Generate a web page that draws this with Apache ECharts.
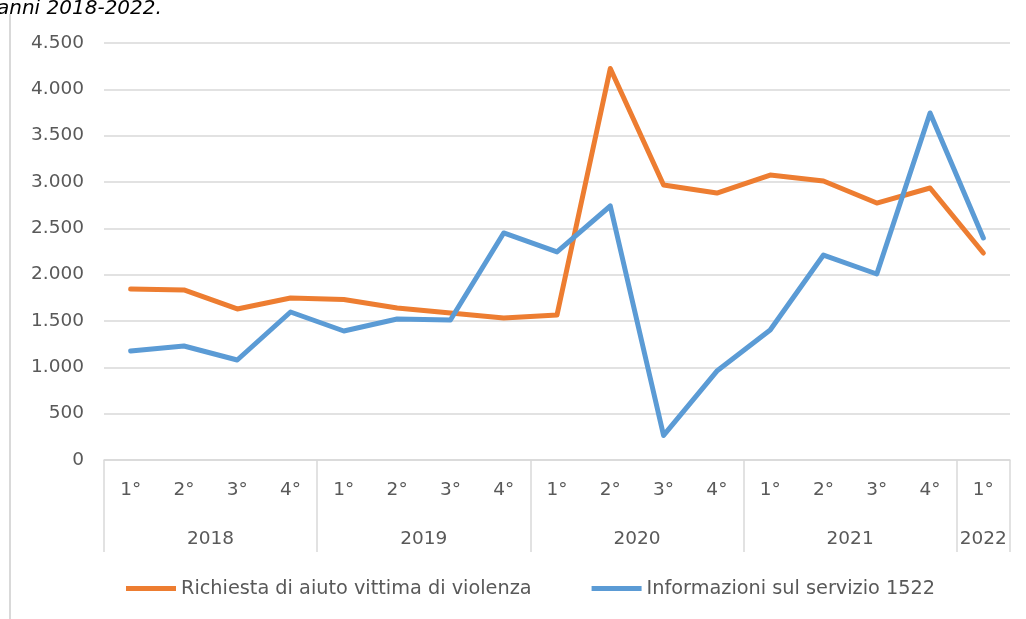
<!DOCTYPE html>
<html>
<head>
<meta charset="utf-8">
<script src="https://cdn.jsdelivr.net/npm/echarts@6/dist/echarts.min.js"></script>
<style>
  html, body { margin: 0; padding: 0; background: #fff; }
  #chart { width: 1026px; height: 619px; }
</style>
</head>
<body>
<div id="chart"></div>
<script>
// trimestri per anno
const quarters = ["1°", "2°", "3°", "4°", "1°", "2°", "3°", "4°", "1°", "2°", "3°", "4°", "1°", "2°", "3°", "4°", "1°"];
const years = ["2018", "2019", "2020", "2021", "2022"];
const quartersPerYear = [4, 4, 4, 4, 1];
const yTicks = [0, 500, 1000, 1500, 2000, 2500, 3000, 3500, 4000, 4500];

const seriesNames = ["Richiesta di aiuto vittima di violenza", "Informazioni sul servizio 1522"];
const richiestaAiuto = [1845, 1835, 1630, 1748, 1732, 1640, 1586, 1532, 1565, 4225, 2968, 2881, 3075, 3011, 2773, 2935, 2234];
const informazioni = [1176, 1230, 1079, 1597, 1392, 1522, 1511, 2450, 2245, 2741, 265, 960, 1403, 2212, 2007, 3745, 2396];

const textColor = "#595959";
const gridColor = "#d9d9d9";
const fontFamily = "DejaVu Sans";
const fontSize = 18.5;

// year boundaries and label centers on a 0..17 value scale
const yearBounds = [0];
quartersPerYear.forEach((n) => yearBounds.push(yearBounds[yearBounds.length - 1] + n));
const yearCenters = years.map((y, i) => (yearBounds[i] + yearBounds[i + 1]) / 2);

const fmt = (v) => String(v).replace(/\B(?=(\d{3})+(?!\d))/g, ".");

const chart = echarts.init(document.getElementById("chart"));
chart.setOption({
  animation: false,
  backgroundColor: "#fff",
  grid: {
    left: 104,
    right: 16,
    top: 43,
    bottom: 159,
    containLabel: false,
  },
  graphic: [
    {
      type: "text",
      left: -3,
      top: -1,
      style: {
        text: "anni 2018-2022.",
        fontFamily: fontFamily,
        fontStyle: "italic",
        fontSize: 20,
        fill: "#000",
      },
    },
    {
      type: "line",
      shape: { x1: 10, y1: 14, x2: 10, y2: 619 },
      style: { stroke: gridColor, lineWidth: 2 },
    },
  ],
  xAxis: [
    {
      type: "category",
      data: quarters,
      boundaryGap: true,
      axisTick: { show: false },
      axisLine: {
        show: true,
        lineStyle: { color: gridColor, width: 1.5 },
      },
      axisLabel: {
        interval: 0,
        color: textColor,
        fontFamily: fontFamily,
        fontSize: fontSize,
        margin: 21,
      },
      splitLine: { show: false },
    },
    {
      type: "value",
      min: 0,
      max: quarters.length,
      position: "bottom",
      axisLine: { show: false },
      splitLine: { show: false },
      axisTick: {
        show: true,
        customValues: yearBounds,
        length: 92,
        lineStyle: { color: gridColor, width: 1.5 },
      },
      axisLabel: {
        customValues: yearCenters,
        color: textColor,
        fontFamily: fontFamily,
        fontSize: fontSize,
        margin: 70,
        formatter: (v) => {
          const i = yearCenters.indexOf(v);
          return i >= 0 ? years[i] : "";
        },
      },
    },
  ],
  yAxis: {
    type: "value",
    min: yTicks[0],
    max: yTicks[yTicks.length - 1],
    interval: 500,
    axisLine: { show: false },
    axisTick: { show: false },
    axisLabel: {
      color: textColor,
      fontFamily: fontFamily,
      fontSize: fontSize,
      margin: 20,
      formatter: fmt,
    },
    splitLine: {
      show: true,
      lineStyle: { color: gridColor, width: 1.5 },
    },
  },
  legend: {
    left: 126,
    top: 579,
    padding: 0,
    icon: "rect",
    itemWidth: 50,
    itemHeight: 5,
    itemGap: 60,
    textStyle: {
      color: textColor,
      fontFamily: fontFamily,
      fontSize: 19.3,
    },
    data: seriesNames,
  },
  series: [
    {
      name: seriesNames[0],
      type: "line",
      data: richiestaAiuto,
      symbol: "none",
      color: "#ED7D31",
      lineStyle: { width: 5, color: "#ED7D31", cap: "round", join: "round" },
    },
    {
      name: seriesNames[1],
      type: "line",
      data: informazioni,
      symbol: "none",
      color: "#5B9BD5",
      lineStyle: { width: 5, color: "#5B9BD5", cap: "round", join: "round" },
    },
  ],
});
</script>
</body>
</html>
